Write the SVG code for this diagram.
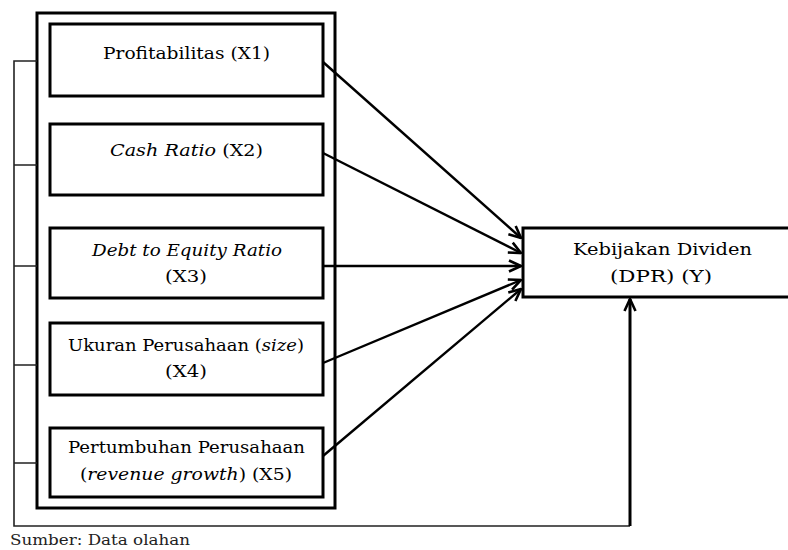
<svg xmlns="http://www.w3.org/2000/svg" width="788" height="550" viewBox="0 0 788 550">
<style>
.box{fill:#fff;stroke:#000;stroke-width:3}
.t{font-family:"DejaVu Serif","Liberation Serif",serif;font-size:17px;fill:#000;text-anchor:middle}
.i{font-style:italic}
.arr{stroke:#000;stroke-width:2.4;fill:none}
.br{stroke:#222;stroke-width:1.6;fill:none}
</style>
<defs>
<marker id="ah" viewBox="0 0 14 14" refX="13" refY="7" markerWidth="14" markerHeight="14" markerUnits="userSpaceOnUse" orient="auto">
<path d="M1,1.5 L13,7 L1,12.5" fill="none" stroke="#000" stroke-width="2.6"/>
</marker>
</defs>
<g id="outer"><rect class="box" x="37" y="13" width="298" height="495"/></g>
<g id="connectors">
<path class="br" d="M37,61 H14 V526 H630"/>
<path class="br" d="M14,165 H37 M14,266 H37 M14,365 H37 M14,463 H37"/>
<line class="arr" x1="323" y1="62" x2="521" y2="238" marker-end="url(#ah)"/>
<line class="arr" x1="323" y1="153" x2="521" y2="253" marker-end="url(#ah)"/>
<line class="arr" x1="323" y1="266" x2="521" y2="266" marker-end="url(#ah)"/>
<line class="arr" x1="323" y1="363" x2="521" y2="280" marker-end="url(#ah)"/>
<line class="arr" x1="323" y1="456" x2="521" y2="289" marker-end="url(#ah)"/>
<line x1="630" y1="526" x2="630" y2="299" stroke="#000" stroke-width="3" marker-end="url(#ah)"/>
</g>
<g id="x1"><rect class="box" x="50" y="24" width="273" height="72"/>
<text class="t" x="186.5" y="59" textLength="167" lengthAdjust="spacingAndGlyphs">Profitabilitas (X1)</text></g>
<g id="x2"><rect class="box" x="50" y="124" width="273" height="71"/>
<text class="t" x="186.5" y="156" textLength="153" lengthAdjust="spacingAndGlyphs"><tspan class="i">Cash Ratio</tspan> (X2)</text></g>
<g id="x3"><rect class="box" x="50" y="228" width="273" height="70"/>
<text class="t i" x="187" y="256" textLength="190" lengthAdjust="spacingAndGlyphs">Debt to Equity Ratio</text>
<text class="t" x="186" y="282" textLength="42" lengthAdjust="spacingAndGlyphs">(X3)</text></g>
<g id="x4"><rect class="box" x="50" y="323" width="273" height="72"/>
<text class="t" x="186" y="351" textLength="236" lengthAdjust="spacingAndGlyphs">Ukuran Perusahaan (<tspan class="i">size</tspan>)</text>
<text class="t" x="186" y="377" textLength="42" lengthAdjust="spacingAndGlyphs">(X4)</text></g>
<g id="x5"><rect class="box" x="50" y="428" width="273" height="69"/>
<text class="t" x="186.5" y="453" textLength="237" lengthAdjust="spacingAndGlyphs">Pertumbuhan Perusahaan</text>
<text class="t" x="186" y="480" textLength="212" lengthAdjust="spacingAndGlyphs">(<tspan class="i">revenue growth</tspan>) (X5)</text></g>
<g id="y"><rect class="box" x="523" y="228" width="270" height="69"/>
<text class="t" x="662.5" y="255" textLength="179" lengthAdjust="spacingAndGlyphs">Kebijakan Dividen</text>
<text class="t" x="661" y="282" textLength="102" lengthAdjust="spacingAndGlyphs">(DPR) (Y)</text></g>
<text x="10" y="545" font-family="DejaVu Serif, Liberation Serif, serif" font-size="14" fill="#222" textLength="180" lengthAdjust="spacingAndGlyphs">Sumber: Data olahan</text>
</svg>
